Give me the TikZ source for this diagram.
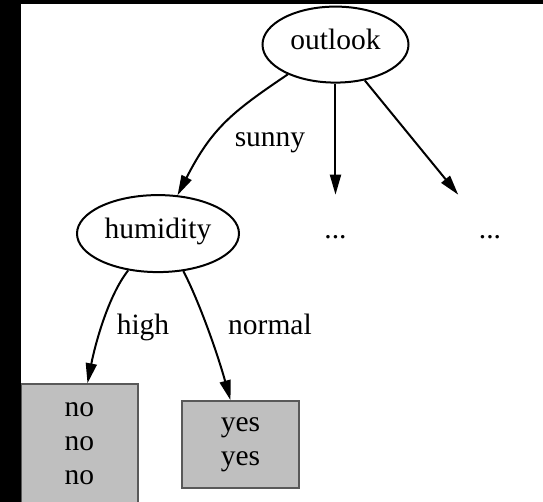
\documentclass[tikz,border=0pt]{standalone}
\usepackage{fontspec}
\setmainfont{Liberation Serif}
\usetikzlibrary{arrows.meta,shapes.geometric}

\begin{document}
\begin{tikzpicture}[x=0.5pt,y=-0.5pt,
  every node/.style={font=\fontsize{14.75}{17}\selectfont},
  var/.style={draw,ellipse,line width=1pt,inner sep=0pt,text height=0.7em,text depth=0.2em},
  more/.style={rectangle,inner sep=0pt,minimum width=56pt,minimum height=38.5pt,text height=0.7em,text depth=0.2em},
  leaf/.style={draw=black!65,fill=black!25,line width=0.75pt,align=center,inner sep=0pt,minimum width=58.5pt},
  edge/.style={line width=1pt,-{Triangle[length=10pt,width=5.5pt]}},
  lbl/.style={anchor=base}
]

\useasboundingbox (0,0) rectangle (543,502);
\fill[white] (0,0) rectangle (543,502);

\node[var,minimum width=73pt,minimum height=38pt] (outlook) at (335.5,44.6) {outlook};
\node[var,minimum width=81pt,minimum height=38.5pt] (humidity) at (158,233.6) {humidity};
\node[more] (dotsa) at (335.5,233.6) {...};
\node[more] (dotsb) at (490,233.6) {...};
\node[leaf,minimum height=60pt] (no) at (79.5,444) {no\\no\\no};
\node[leaf,minimum height=43.5pt] (yes) at (240.5,444.5) {yes\\yes};

\draw[edge] (outlook.212) .. controls (232,112) and (212,128) .. (humidity.63);
\draw[edge] (outlook) -- (dotsa);
\draw[edge] (outlook) -- (dotsb);
\draw[edge] (humidity.231) .. controls (108,296) and (95,345) .. ([xshift=4pt]no.north);
\draw[edge] (humidity.304) .. controls (196,295) and (215,345) .. ([xshift=-5pt]yes.north);

\node[lbl] (sunnylbl) at (270,147) {sunny};
\node[lbl] (highlbl) at (143,335) {high};
\node[lbl] (normallbl) at (270,335) {normal};

\fill[black] (0,0) rectangle (21,502);
\fill[black] (21,0) rectangle (543,4);
\end{tikzpicture}
\end{document}
